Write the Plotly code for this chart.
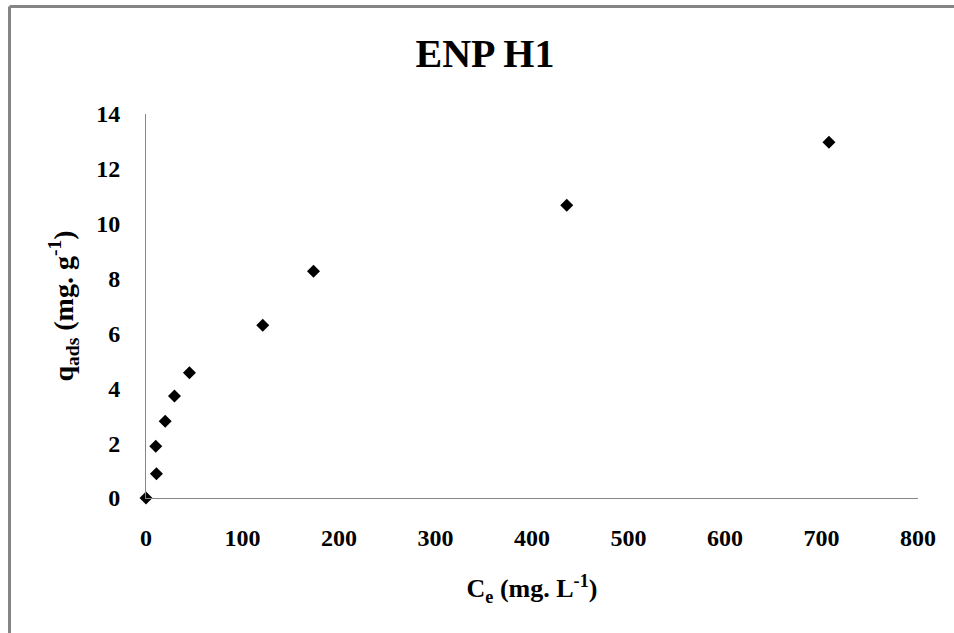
import plotly.graph_objects as go

# Data
ce = [0, 10.8, 10.1, 19.9, 29.5, 45, 121, 173.6, 436, 707.7]
qads = [0, 0.88, 1.89, 2.8, 3.72, 4.57, 6.3, 8.27, 10.67, 12.97]
x_ticks = [0, 100, 200, 300, 400, 500, 600, 700, 800]
y_ticks = [0, 2, 4, 6, 8, 10, 12, 14]

W, H = 954, 633
L, R, T, B = 146, 36, 114, 135
pw, ph = W - L - R, H - T - B

font_family = "Liberation Serif, Times New Roman, serif"

fig = go.Figure()
fig.add_trace(go.Scatter(
    x=ce, y=qads, mode="markers",
    marker=dict(symbol="diamond", size=10, color="black"),
    showlegend=False, cliponaxis=False,
))

# frame border (gray lines at top and left of the picture)
bx = (9.5 - L) / pw
by = (H - B - 6.5) / ph
fig.add_shape(type="line", xref="paper", yref="paper", x0=bx, x1=bx, y0=by, y1=-B / ph - 0.01,
              line=dict(color="#858585", width=3))
fig.add_shape(type="line", xref="paper", yref="paper", x0=bx, x1=(W - L) / pw + 0.01, y0=by, y1=by,
              line=dict(color="#858585", width=3))

fig.update_layout(
    width=W, height=H,
    margin=dict(l=L, r=R, t=T, b=B),
    paper_bgcolor="white", plot_bgcolor="white",
    font=dict(family=font_family, color="black"),
    title=dict(text="<b>ENP H1</b>", x=(485 - L) / pw, xref="paper", xanchor="center",
               y=1 - 53 / H, yanchor="middle",
               font=dict(size=40, family=font_family, color="black")),
    xaxis=dict(
        range=[0, 800], tickvals=x_ticks, ticktext=[f"<b>{v}</b>" for v in x_ticks],
        showgrid=False, zeroline=False, showline=True, linecolor="#868686", linewidth=1,
        ticks="", tickfont=dict(size=24, family=font_family, color="black"),
        ticklabelstandoff=18,
        title=dict(text="<b>C<sub>e</sub> (mg. L<sup>-1</sup>)</b>",
                   font=dict(size=26, family=font_family, color="black"), standoff=29),
    ),
    yaxis=dict(
        range=[0, 14], tickvals=y_ticks, ticktext=[f"<b>{v}</b>" for v in y_ticks],
        showgrid=False, zeroline=False, showline=True, linecolor="#868686", linewidth=1,
        ticks="", tickfont=dict(size=24, family=font_family, color="black"),
        ticklabelstandoff=20,
        title=dict(text="<b>q<sub>ads</sub> (mg. g<sup>-1</sup>)</b>",
                   font=dict(size=28, family=font_family, color="black"), standoff=14),
    ),
)

fig.write_html("out.html")
